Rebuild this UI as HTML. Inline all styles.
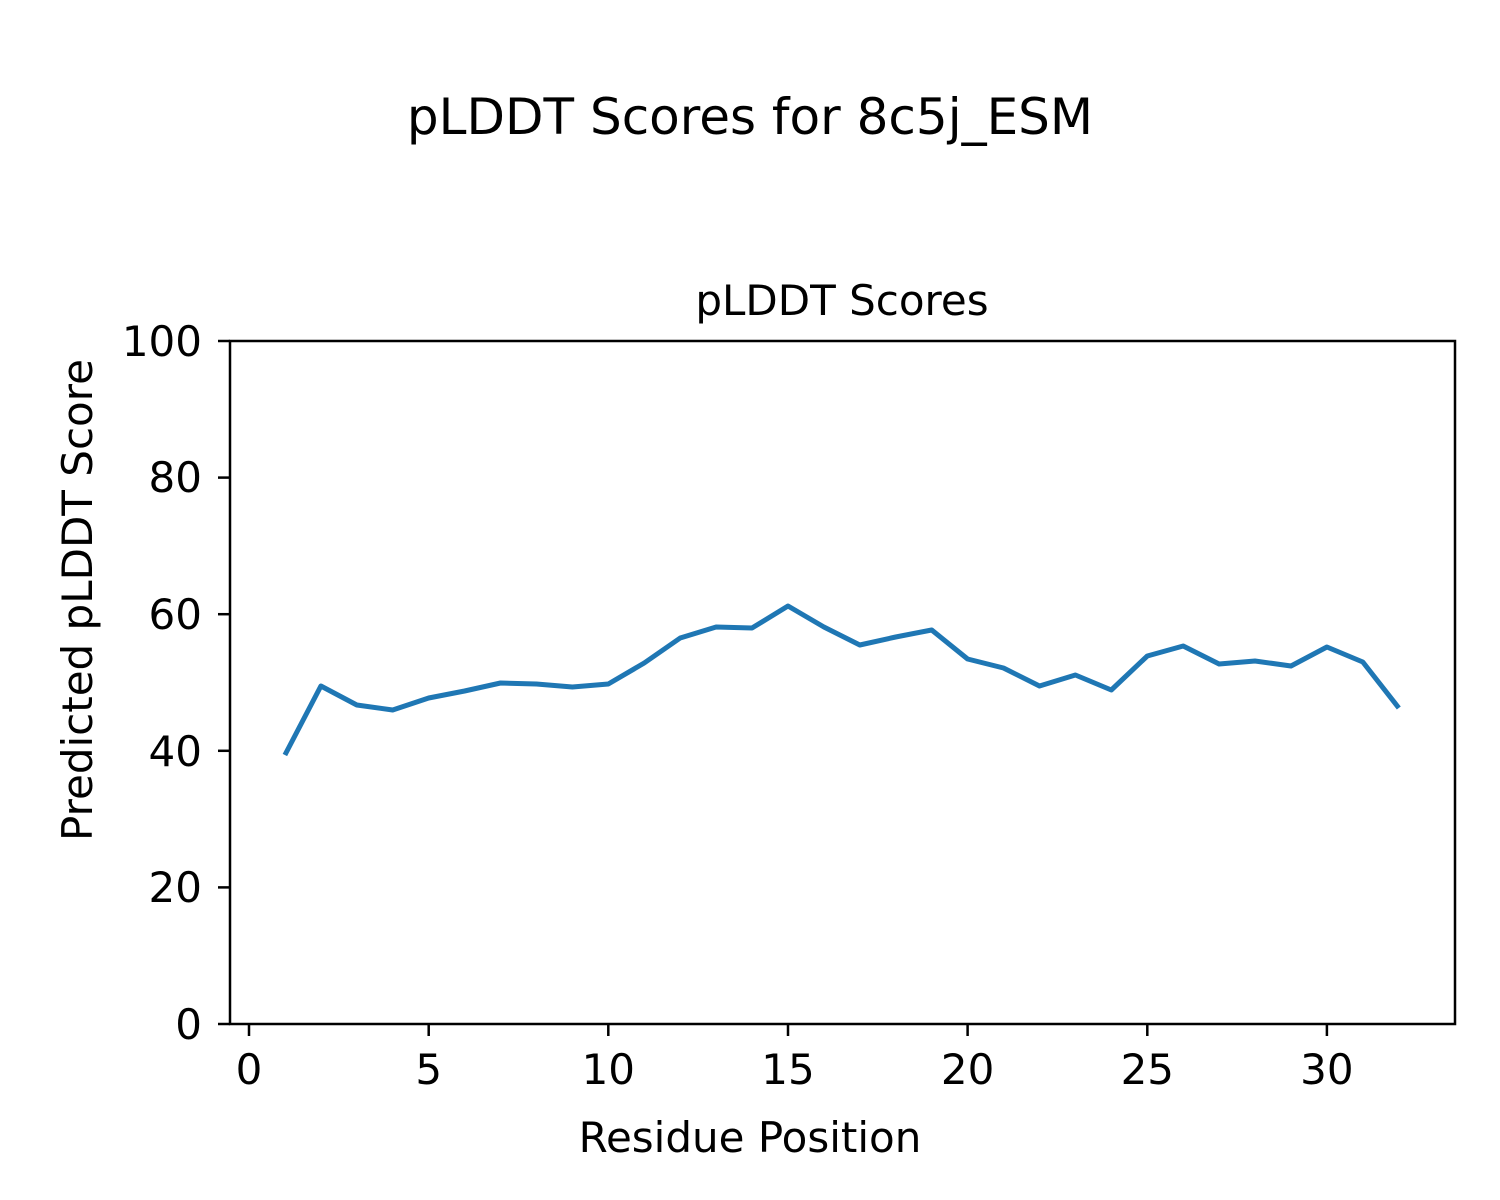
<!DOCTYPE html>
<html><head><meta charset="utf-8"><style>body{margin:0;background:#fff}svg{display:block}text{font-family:"DejaVu Sans","Liberation Sans",sans-serif;fill:#000}</style></head>
<body>
<svg width="1500" height="1200" viewBox="0 0 1500 1200" xmlns="http://www.w3.org/2000/svg">
<text x="750" y="134" font-size="50" text-anchor="middle">pLDDT Scores for 8c5j_ESM</text>
<text x="842" y="315" font-size="42" text-anchor="middle">pLDDT Scores</text>
<polyline fill="none" stroke="#1f77b4" stroke-width="5" stroke-linejoin="round" points="284.9,755 320.9,686 356.8,705 392.7,710 428.7,698 464.6,691 500.5,683 536.4,684 572.4,687 608.3,684 644.2,663 680.2,638 716.1,627 752,628 788,606 823.9,627 859.8,645 895.7,637 931.7,630 967.6,659 1003.5,668 1039.5,686 1075.4,675 1111.3,690 1147.3,656 1183.2,646 1219.1,664 1255,661 1291,666 1326.9,647 1362.8,662 1398.8,708"/>
<rect x="230" y="341" width="1225" height="683" fill="none" stroke="#000" stroke-width="2.5"/>
<g stroke="#000" stroke-width="2.5">
<line x1="249" y1="1024" x2="249" y2="1036"/><line x1="428.7" y1="1024" x2="428.7" y2="1036"/><line x1="608.3" y1="1024" x2="608.3" y2="1036"/><line x1="788" y1="1024" x2="788" y2="1036"/><line x1="967.6" y1="1024" x2="967.6" y2="1036"/><line x1="1147.3" y1="1024" x2="1147.3" y2="1036"/><line x1="1326.9" y1="1024" x2="1326.9" y2="1036"/>
<line x1="218" y1="1024" x2="230" y2="1024"/><line x1="218" y1="887.4" x2="230" y2="887.4"/><line x1="218" y1="750.8" x2="230" y2="750.8"/><line x1="218" y1="614.2" x2="230" y2="614.2"/><line x1="218" y1="477.6" x2="230" y2="477.6"/><line x1="218" y1="341" x2="230" y2="341"/>
</g>
<g font-size="42" text-anchor="middle">
<text x="249" y="1084">0</text><text x="428.7" y="1084">5</text><text x="608.3" y="1084">10</text><text x="788" y="1084">15</text><text x="967.6" y="1084">20</text><text x="1147.3" y="1084">25</text><text x="1326.9" y="1084">30</text>
</g>
<g font-size="42" text-anchor="end">
<text x="202" y="1039">0</text><text x="202" y="902">20</text><text x="202" y="766">40</text><text x="202" y="629">60</text><text x="202" y="492">80</text><text x="202" y="356">100</text>
</g>
<text x="750" y="1152" font-size="42" text-anchor="middle">Residue Position</text>
<text transform="translate(92,600) rotate(-90)" font-size="42" text-anchor="middle">Predicted pLDDT Score</text>
</svg>
</body></html>
